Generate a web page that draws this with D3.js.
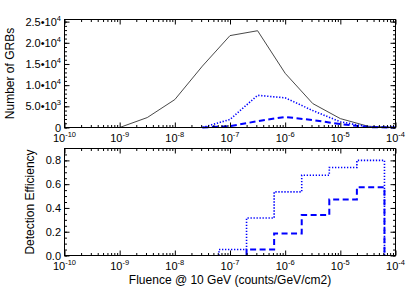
<!DOCTYPE html>
<html>
<head>
<meta charset="utf-8">
<script src="https://cdn.jsdelivr.net/npm/d3@7"></script>
<style>
  body { margin: 0; background: #fff; }
  svg { display: block; font-family: "Liberation Sans", Arial, sans-serif; }
</style>
</head>
<body>
<svg id="chart" width="415" height="297"></svg>
<script>
// log10(fluence) at each curve point of the top panel
const fluenceExp = [-10, -9.5, -9, -8.5, -8, -7.5, -7, -6.5, -6, -5.5, -5, -4.5, -4];
const grbAll = [0, 0, 0, 2350, 6600, 14500, 21700, 22850, 12800, 5650, 2100, 300, 0];
const grbDotted = [null, null, null, null, null, 0, 1900, 7600, 7000, 4000, 1350, 150, 0];
const grbDashed = [null, null, null, null, null, 0, 300, 1500, 2500, 1750, 800, 100, 0];

// efficiency histogram, bin edges in log10(fluence)
const binEdgesExp = [-7.2, -6.7, -6.2, -5.7, -5.2, -4.7, -4.2];
const effDotted = [0.05, 0.315, 0.535, 0.675, 0.74, 0.80];
const effDashed = [null, 0.05, 0.185, 0.34, 0.47, 0.575];

const xTickExp = [-10, -9, -8, -7, -6, -5, -4];
const countTicks = [0, 5000, 10000, 15000, 20000, 25000];
const countTickLabels = [['0', ''], ['5.0\u202210', '3'], ['1.0\u202210', '4'], ['1.5\u202210', '4'], ['2.0\u202210', '4'], ['2.5\u202210', '4']];
const effTicks = [0, 0.2, 0.4, 0.6, 0.8];
const effTickLabels = ['0.0', '0.2', '0.4', '0.6', '0.8'];

const svg = d3.select('#chart');
const left = 64.5, right = 395.5;

const x = d3.scaleLog().domain([1e-10, 1e-4]).range([left, right]);
const yTop = d3.scaleLinear().domain([0, 25500]).range([127.5, 19.5]);
const yBot = d3.scaleLinear().domain([0, 0.9]).range([255.5, 148.5]);

const xMajor = xTickExp.map(e => Math.pow(10, e));
const xMinor = [];
xTickExp.slice(0, -1).forEach(e => {
  for (let k = 2; k <= 9; ++k) xMinor.push(k * Math.pow(10, e));
});

function frame(y, yMajor, yMinor) {
  const g = svg.append('g');
  const [y0, y1] = y.range();

  const axes = [
    [d3.axisBottom(x), `translate(0,${y0})`, xMajor, xMinor],
    [d3.axisTop(x), `translate(0,${y1})`, xMajor, xMinor],
    [d3.axisLeft(y), `translate(${left},0)`, yMajor, yMinor],
    [d3.axisRight(y), `translate(${right},0)`, yMajor, yMinor],
  ];
  axes.forEach(([ax, tr, major, minor]) => {
    g.append('g').attr('transform', tr)
      .call(ax.tickValues(major).tickSize(-5).tickSizeOuter(0).tickFormat(''))
      .call(s => s.select('.domain').remove());
    g.append('g').attr('transform', tr)
      .call(ax.tickValues(minor).tickSize(-2.5).tickSizeOuter(0).tickFormat(''))
      .call(s => s.select('.domain').remove());
  });
  g.selectAll('line').attr('stroke', '#000').attr('stroke-width', 1);

  g.append('rect')
    .attr('x', left).attr('y', y1)
    .attr('width', right - left).attr('height', y0 - y1)
    .attr('fill', 'none').attr('stroke', '#000').attr('stroke-width', 1);

  // decade labels 10^n under the panel
  xTickExp.forEach(e => {
    const t = g.append('text')
      .attr('x', x(Math.pow(10, e))).attr('y', y0 + 14.5)
      .attr('text-anchor', 'middle').attr('font-size', 11).attr('fill', '#000');
    t.append('tspan').text('10');
    t.append('tspan').attr('dy', -5).attr('font-size', 7.5).text(String(e));
  });
}

function yLabels(y, ticks, labels) {
  ticks.forEach((v, i) => {
    const lab = labels[i];
    const t = svg.append('text')
      .attr('x', 61).attr('y', y(v) + 4)
      .attr('text-anchor', 'end').attr('font-size', 11).attr('fill', '#000');
    if (Array.isArray(lab)) {
      t.append('tspan').text(lab[0]);
      if (lab[1]) t.append('tspan').attr('dy', -5).attr('font-size', 7.5).text(lab[1]);
    } else {
      t.text(lab);
    }
  });
}

// top panel curves
const curve = d3.line()
  .defined(d => d[1] != null)
  .x(d => x(Math.pow(10, d[0])))
  .y(d => yTop(d[1]));

svg.append('path')
  .datum(fluenceExp.map((e, i) => [e, grbAll[i]]))
  .attr('d', curve)
  .attr('fill', 'none').attr('stroke', '#333').attr('stroke-width', 0.9);
svg.append('path')
  .datum(fluenceExp.map((e, i) => [e, grbDotted[i]]))
  .attr('d', curve)
  .attr('fill', 'none').attr('stroke', '#0000ff').attr('stroke-width', 1.6)
  .attr('stroke-dasharray', '1.3,1.7');
svg.append('path')
  .datum(fluenceExp.map((e, i) => [e, grbDashed[i]]))
  .attr('d', curve)
  .attr('fill', 'none').attr('stroke', '#0000ff').attr('stroke-width', 2)
  .attr('stroke-dasharray', '6,3.5');

// bottom panel step histograms
function steps(values) {
  const pts = [];
  let started = false;
  values.forEach((v, i) => {
    if (v == null) return;
    if (!started) { pts.push([binEdgesExp[i], 0]); started = true; }
    pts.push([binEdgesExp[i], v]);
    pts.push([binEdgesExp[i + 1], v]);
  });
  pts.push([binEdgesExp[binEdgesExp.length - 1], 0]);
  return pts;
}
const stepLine = d3.line()
  .x(d => x(Math.pow(10, d[0])))
  .y(d => yBot(d[1]));

svg.append('path')
  .datum(steps(effDotted))
  .attr('d', stepLine)
  .attr('fill', 'none').attr('stroke', '#0000ff').attr('stroke-width', 1.6)
  .attr('stroke-dasharray', '1.3,1.7');
svg.append('path')
  .datum(steps(effDashed))
  .attr('d', stepLine)
  .attr('fill', 'none').attr('stroke', '#0000ff').attr('stroke-width', 2)
  .attr('stroke-dasharray', '6,3.5');

frame(yTop, countTicks, d3.range(0, 25001, 1000));
frame(yBot, effTicks, d3.range(0, 0.86, 0.05));
yLabels(yTop, countTicks, countTickLabels);
yLabels(yBot, effTicks, effTickLabels);

svg.append('text')
  .attr('transform', `translate(14,${(yTop(0) + yTop.range()[1]) / 2}) rotate(-90)`)
  .attr('text-anchor', 'middle').attr('font-size', 12).attr('fill', '#000')
  .text('Number of GRBs');
svg.append('text')
  .attr('transform', `translate(34,${(yBot(0) + yBot.range()[1]) / 2}) rotate(-90)`)
  .attr('text-anchor', 'middle').attr('font-size', 12).attr('fill', '#000')
  .text('Detection Efficiency');
svg.append('text')
  .attr('x', (left + right) / 2).attr('y', 284)
  .attr('text-anchor', 'middle').attr('font-size', 12).attr('fill', '#000')
  .text('Fluence @ 10 GeV (counts/GeV/cm2)');
</script>
</body>
</html>
